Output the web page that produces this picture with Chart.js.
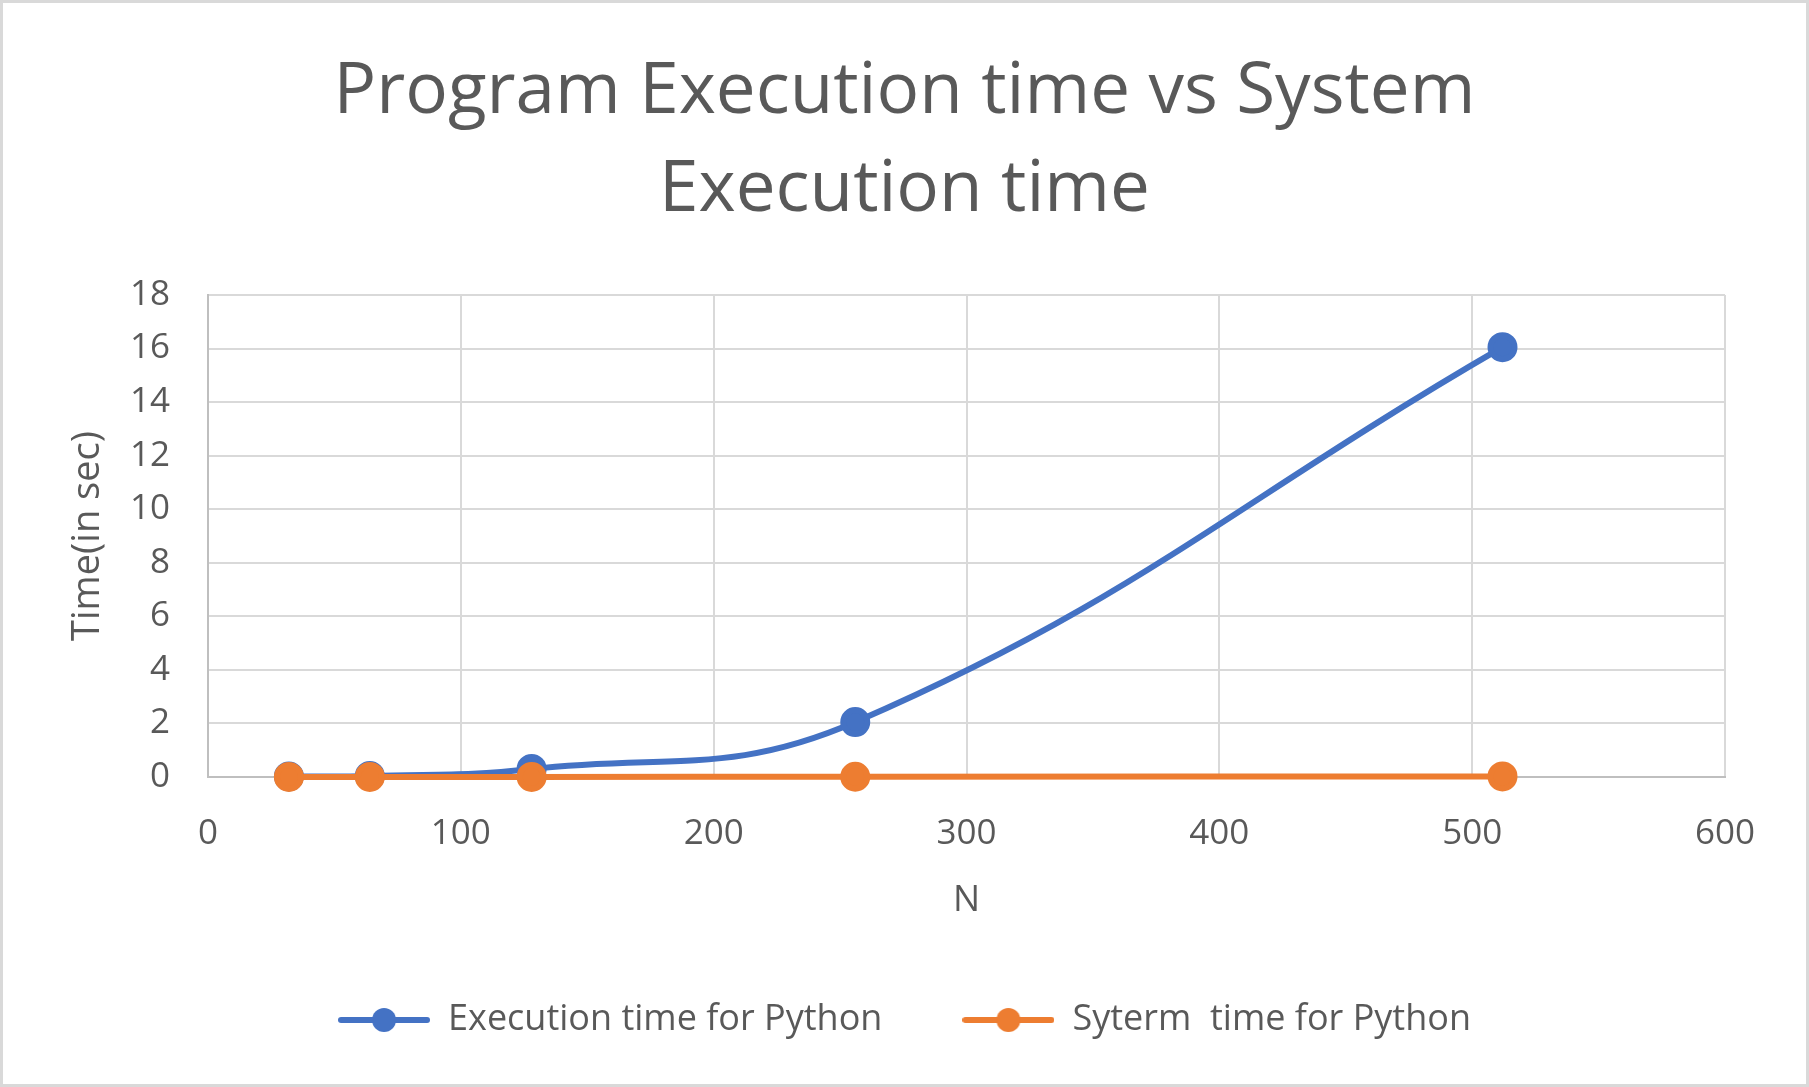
<!DOCTYPE html>
<html>
<head>
<meta charset="utf-8">
<script src="https://cdn.jsdelivr.net/npm/chart.js@4.4.0/dist/chart.umd.min.js"></script>
<style>
  html, body { margin: 0; padding: 0; background: #fff; }
  #wrap { position: relative; width: 1809px; height: 1087px; box-sizing: border-box; border: 3px solid #d9d9d9; }
  canvas { display: block; }
</style>
</head>
<body>
<div id="wrap"><canvas id="myChart"></canvas></div>
<script>
// values
var nValues = [32, 64, 128, 256, 512];
var execTime = [0.02, 0.04, 0.3, 2.05, 16.05];
var sysTime = [0.001, 0.002, 0.004, 0.01, 0.02];
var seriesNames = ["Execution time for Python", "Syterm  time for Python"];
var titleLines = ["Program Execution time vs System", "Execution time"];

var textColor = "#595959";
var fontFamily = "'Open Sans', 'Noto Sans', sans-serif";
var blue = "#4472C4", orange = "#ED7D31";

function toPoints(xs, ys) {
	var pts = [];
	for (var i = 0; i < xs.length; i++) pts.push({ x: xs[i], y: ys[i] });
	return pts;
}

// legend marker: short line with a dot in the middle, like Excel
function legendMark(color) {
	var c = document.createElement("canvas");
	c.width = 92; c.height = 28;
	var g = c.getContext("2d");
	g.strokeStyle = color;
	g.lineWidth = 6;
	g.lineCap = "round";
	g.beginPath(); g.moveTo(3, 14); g.lineTo(89, 14); g.stroke();
	g.fillStyle = color;
	g.beginPath(); g.arc(46, 14, 12, 0, Math.PI * 2); g.fill();
	return c;
}

var ctx = document.getElementById("myChart").getContext("2d");
var myChart = new Chart(ctx, {
	type: "scatter",
	data: {
		datasets: [{
			label: seriesNames[0],
			data: toPoints(nValues, execTime),
			showLine: true,
			borderColor: blue,
			backgroundColor: blue,
			borderWidth: 6,
			pointRadius: 12,
			pointHoverRadius: 12,
			tension: 0.42,
			clip: false,
			order: 2
		}, {
			label: seriesNames[1],
			data: toPoints(nValues, sysTime),
			showLine: true,
			borderColor: orange,
			backgroundColor: orange,
			borderWidth: 6,
			pointRadius: 12,
			pointHoverRadius: 12,
			tension: 0.42,
			clip: false,
			order: 1
		}]
	},
	options: {
		responsive: true,
		maintainAspectRatio: false,
		animation: false,
		layout: { padding: { left: 0, right: 0, top: 0, bottom: 36 } },
		plugins: {
			tooltip: { enabled: false },
			title: {
				display: true,
				text: titleLines,
				color: textColor,
				font: { family: fontFamily, size: 71, weight: "normal", lineHeight: 1.38 },
				padding: { top: 41, bottom: 55 }
			},
			legend: {
				position: "bottom",
				labels: {
					color: textColor,
					font: { family: fontFamily, size: 36 },
					usePointStyle: true,
					pointStyleWidth: 92,
					padding: 80,
					generateLabels: function(chart) {
						return chart.data.datasets.map(function(ds, i) {
							return {
								text: ds.label,
								fontColor: textColor,
								pointStyle: legendMark(ds.borderColor),
								lineWidth: 0,
								datasetIndex: i
							};
						});
					}
				}
			}
		},
		scales: {
			x: {
				type: "linear",
				min: 0, max: 600,
				ticks: { stepSize: 100, color: textColor, font: { family: fontFamily, size: 35 }, padding: 36 },
				grid: { color: "#d9d9d9", lineWidth: 2, drawTicks: false },
				border: { color: "#bfbfbf", width: 2 },
				title: { display: true, text: "N", color: textColor, font: { family: fontFamily, size: 36 }, padding: { top: 0, bottom: 0 } },
				afterFit: function(scale) { scale.height = 145; }
			},
			y: {
				min: 0, max: 18,
				ticks: { stepSize: 2, color: textColor, font: { family: fontFamily, size: 35 }, padding: 38 },
				grid: { color: "#d9d9d9", lineWidth: 2, drawTicks: false },
				border: { color: "#bfbfbf", width: 2 },
				title: { display: true, text: "Time(in sec)", color: textColor, font: { family: fontFamily, size: 38 }, padding: { top: 62, bottom: 0 } },
				afterFit: function(scale) { scale.width = 205; }
			},
			// empty right-hand strip so the title and legend stay centred on the canvas
			spacer: {
				position: "right",
				display: true,
				grid: { display: false, drawTicks: false },
				border: { display: false },
				ticks: { display: false },
				afterFit: function(scale) { scale.width = 81; }
			}
		}
	}
});
</script>
</body>
</html>
